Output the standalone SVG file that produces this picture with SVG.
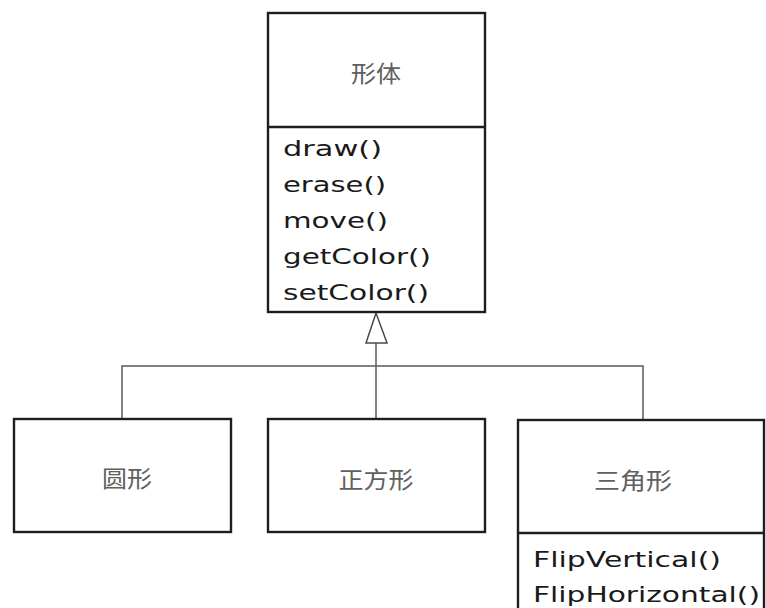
<svg xmlns="http://www.w3.org/2000/svg" width="766" height="608" viewBox="0 0 766 608">
<style>
.box{fill:#fff;stroke:#1e1e1e;stroke-width:2.4}
.div{stroke:#1e1e1e;stroke-width:2.4}
.conn{fill:none;stroke:#5a5a5a;stroke-width:1.5}
.tri{fill:#fff;stroke:#4a4a4a;stroke-width:1.5}
.cn{font-family:"Noto Sans CJK SC","Noto Sans CJK JP",sans-serif;font-size:23px;fill:#606060;dominant-baseline:central;text-anchor:middle}
.m{font-family:"DejaVu Sans",Verdana,sans-serif;font-size:21.5px;fill:#1a1a1a}
</style>
<rect width="766" height="608" fill="#fff"/>
<g id="connectors">
<polyline class="conn" points="122,419 122,366 643,366 643,419"/>
<line class="conn" x1="376" y1="343" x2="376" y2="419"/>
<polygon class="tri" points="376,313 366,343 387,343"/>
</g>
<g id="shape">
<rect class="box" x="268" y="13" width="217" height="299"/>
<line class="div" x1="268" y1="127" x2="485" y2="127"/>
<text class="cn" x="376" y="72" textLength="50" lengthAdjust="spacingAndGlyphs">形体</text>
<text class="m" x="283" y="156" textLength="99" lengthAdjust="spacingAndGlyphs">draw()</text>
<text class="m" x="283" y="192" textLength="103" lengthAdjust="spacingAndGlyphs">erase()</text>
<text class="m" x="283" y="228" textLength="105" lengthAdjust="spacingAndGlyphs">move()</text>
<text class="m" x="283" y="264" textLength="148" lengthAdjust="spacingAndGlyphs">getColor()</text>
<text class="m" x="283" y="300" textLength="146" lengthAdjust="spacingAndGlyphs">setColor()</text>
</g>
<g id="circle">
<rect class="box" x="14" y="419" width="217" height="113"/>
<text class="cn" x="127" y="477" textLength="50" lengthAdjust="spacingAndGlyphs">圆形</text>
</g>
<g id="square">
<rect class="box" x="268" y="419" width="217" height="113"/>
<text class="cn" x="376" y="478" textLength="75" lengthAdjust="spacingAndGlyphs">正方形</text>
</g>
<g id="triangle">
<rect class="box" x="518" y="420" width="246" height="200"/>
<line class="div" x1="518" y1="533" x2="764" y2="533"/>
<text class="cn" x="633" y="479" textLength="78" lengthAdjust="spacingAndGlyphs">三角形</text>
<text class="m" x="533" y="567" textLength="188" lengthAdjust="spacingAndGlyphs">FlipVertical()</text>
<text class="m" x="533" y="602" textLength="227" lengthAdjust="spacingAndGlyphs">FlipHorizontal()</text>
</g>
</svg>
